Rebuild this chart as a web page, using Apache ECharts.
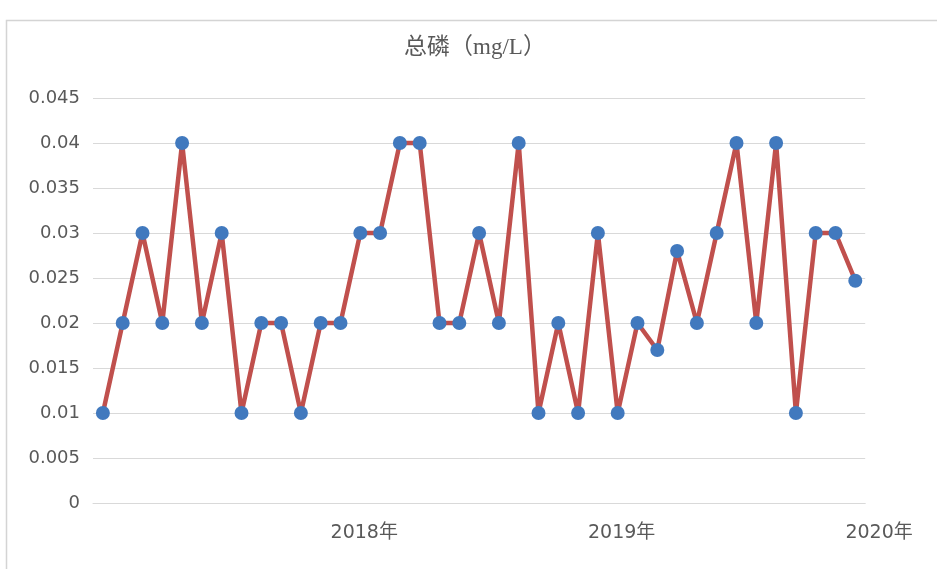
<!DOCTYPE html>
<html>
<head>
<meta charset="utf-8">
<title>总磷（mg/L）</title>
<script src="https://cdn.jsdelivr.net/npm/echarts@6/dist/echarts.min.js"></script>
<style>
  html, body { margin: 0; padding: 0; background: #ffffff; }
  #chart { width: 937px; height: 569px; }
</style>
</head>
<body>
<div id="chart"></div>
<script>
// Sample sequence numbers along the x axis
const sampleNo = [1, 2, 3, 4, 5, 6, 7, 8, 9, 10, 11, 12, 13, 14, 15, 16, 17, 18, 19, 20,
                  21, 22, 23, 24, 25, 26, 27, 28, 29, 30, 31, 32, 33, 34, 35, 36, 37, 38, 39];

// Total phosphorus concentration, mg/L
const totalP = [0.01, 0.02, 0.03, 0.02, 0.04, 0.02, 0.03, 0.01, 0.02, 0.02,
                0.01, 0.02, 0.02, 0.03, 0.03, 0.04, 0.04, 0.02, 0.02, 0.03,
                0.02, 0.04, 0.01, 0.02, 0.01, 0.03, 0.01, 0.02, 0.017, 0.028,
                0.02, 0.03, 0.04, 0.02, 0.04, 0.01, 0.03, 0.03, 0.0247];

// Year labels and where they sit, in sample steps from the left edge of the plot
const yearLabels = ['2018年', '2019年', '2020年'];
const yearLabelPos = [13.7, 26.7, 39.7];

// Value axis ticks
const yTicks = [0, 0.005, 0.01, 0.015, 0.02, 0.025, 0.03, 0.035, 0.04, 0.045];

const chart = echarts.init(document.getElementById('chart'), null, { renderer: 'canvas' });

const PLOT_LEFT = 93;
const STEP = 19.8;
const PLOT_WIDTH = STEP * sampleNo.length;
const LABEL_SPAN = 42;

chart.setOption({
  animation: false,
  backgroundColor: '#ffffff',
  title: {
    text: '总磷（mg/L）',
    left: 470,
    textAlign: 'center',
    top: 31,
    textStyle: {
      fontFamily: '"Liberation Serif", "Noto Sans CJK SC", serif',
      fontSize: 23,
      fontWeight: 'normal',
      color: '#595959'
    }
  },
  graphic: [{
    type: 'rect',
    silent: true,
    z: -10,
    shape: { x: 6.5, y: 20.5, width: 1000, height: 620 },
    style: { fill: 'none', stroke: '#d4d4d4', lineWidth: 1.5 }
  }],
  grid: [
    { left: PLOT_LEFT, top: 98, width: PLOT_WIDTH, bottom: 66, containLabel: false },
    { left: PLOT_LEFT, top: 98, width: STEP * LABEL_SPAN, bottom: 66, containLabel: false }
  ],
  xAxis: [
    {
      type: 'category',
      gridIndex: 0,
      data: sampleNo,
      boundaryGap: true,
      axisLine: { show: true, lineStyle: { color: '#d9d9d9', width: 1 } },
      axisTick: { show: false },
      axisLabel: { show: false, interval: 0 },
      splitLine: { show: false }
    },
    {
      type: 'value',
      gridIndex: 1,
      min: 0,
      max: LABEL_SPAN,
      axisLine: { show: false },
      axisTick: { show: false },
      splitLine: { show: false },
      axisLabel: {
        show: true,
        customValues: yearLabelPos,
        margin: 21,
        fontFamily: '"DejaVu Sans", "Noto Sans CJK SC", sans-serif',
        fontSize: 19,
        color: '#595959',
        formatter: function (v) {
          for (let i = 0; i < yearLabelPos.length; i++) {
            if (Math.abs(yearLabelPos[i] - v) < 1e-6) return yearLabels[i];
          }
          return '';
        }
      }
    }
  ],
  yAxis: [
    {
      type: 'value',
      gridIndex: 0,
      min: yTicks[0],
      max: yTicks[yTicks.length - 1],
      interval: yTicks[1] - yTicks[0],
      axisLine: { show: false },
      axisTick: { show: false },
      axisLabel: {
        margin: 13,
        fontFamily: '"DejaVu Sans", sans-serif',
        fontSize: 18,
        color: '#595959',
        formatter: function (v) { return String(+v.toFixed(3)); }
      },
      splitLine: { show: true, lineStyle: { color: '#d9d9d9', width: 1 } }
    },
    {
      type: 'value',
      gridIndex: 1,
      show: false,
      min: 0,
      max: 1,
      splitLine: { show: false }
    }
  ],
  series: [{
    name: '总磷',
    type: 'line',
    xAxisIndex: 0,
    yAxisIndex: 0,
    data: totalP,
    symbol: 'circle',
    symbolSize: 14,
    showSymbol: true,
    showAllSymbol: true,
    lineStyle: { color: '#c0504d', width: 4.5 },
    itemStyle: { color: '#4179be', borderWidth: 0, opacity: 1 },
    z: 3
  }]
});
</script>
</body>
</html>
